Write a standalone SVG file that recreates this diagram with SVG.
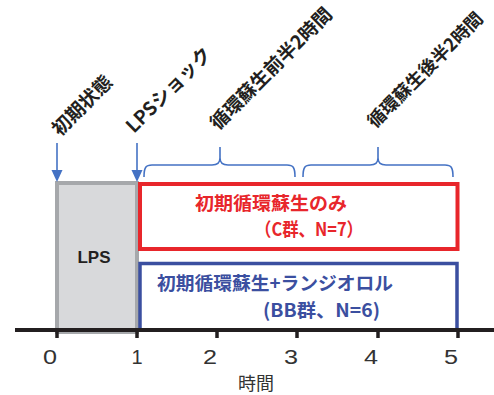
<svg xmlns="http://www.w3.org/2000/svg" width="494" height="395" viewBox="0 0 494 395">
<style>
.rot{font-family:"Noto Sans CJK JP","Liberation Sans",sans-serif;font-weight:bold;font-size:19px;fill:#231f20}
.tick{font-family:"Liberation Sans","DejaVu Sans",sans-serif;font-size:20px;fill:#333;text-anchor:middle}
.lbl{font-family:"Noto Sans CJK JP","Liberation Sans",sans-serif;font-weight:bold;font-size:18.5px}
.red{fill:#e8262b}
.blue{fill:#3b4fa0}
.conn{fill:none;stroke:#4472c4;stroke-width:1.6}
</style>
<rect width="494" height="395" fill="#fff"/>

<g id="lps-box">
<rect x="57" y="183" width="80" height="149" fill="#d8d9db" stroke="#a6a8ab" stroke-width="4"/>
<text x="94" y="263" font-family="Liberation Sans,Arial,sans-serif" font-weight="bold" font-size="17" fill="#231f20" text-anchor="middle">LPS</text>
</g>

<g id="c-group">
<rect x="140" y="184" width="317.5" height="65" fill="#fff" stroke="#e8262b" stroke-width="4"/>
<text class="lbl red" x="195" y="210" textLength="152" lengthAdjust="spacingAndGlyphs">初期循環蘇生のみ</text>
<text class="lbl red" x="255" y="236" textLength="108" lengthAdjust="spacingAndGlyphs">（C群、N=7）</text>
</g>

<g id="bb-group">
<path d="M140,331 L140,263.5 L457,263.5 L457,331" fill="#fff" stroke="#3b4fa0" stroke-width="3.5"/>
<text class="lbl blue" x="157" y="290" textLength="236" lengthAdjust="spacingAndGlyphs">初期循環蘇生+ランジオロル</text>
<text class="lbl blue" x="263" y="317" textLength="117" lengthAdjust="spacingAndGlyphs">(BB群、N=6)</text>
</g>

<g id="axis">
<line x1="15" y1="330" x2="494" y2="330" stroke="#231f20" stroke-width="4"/>
<g stroke="#231f20" stroke-width="3.5">
<line x1="57" y1="330" x2="57" y2="338"/>
<line x1="137" y1="330" x2="137" y2="338"/>
<line x1="217" y1="330" x2="217" y2="338"/>
<line x1="297" y1="330" x2="297" y2="338"/>
<line x1="378" y1="330" x2="378" y2="338"/>
<line x1="458" y1="330" x2="458" y2="338"/>
</g>
<text class="tick" x="50" y="364" textLength="14" lengthAdjust="spacingAndGlyphs" text-anchor="start">0</text>
<text class="tick" x="137" y="364">1</text>
<text class="tick" x="210" y="364" textLength="14" lengthAdjust="spacingAndGlyphs" text-anchor="start">2</text>
<text class="tick" x="291" y="364" textLength="14" lengthAdjust="spacingAndGlyphs" text-anchor="start">3</text>
<text class="tick" x="371" y="364" textLength="14" lengthAdjust="spacingAndGlyphs" text-anchor="start">4</text>
<text class="tick" x="451" y="364" textLength="14" lengthAdjust="spacingAndGlyphs" text-anchor="start">5</text>
<text x="256" y="390" font-family="Noto Sans CJK JP,sans-serif" font-size="18" fill="#333" text-anchor="middle">時間</text>
</g>

<g id="label-initial">
<text class="rot" transform="translate(60,137) rotate(-45)">初期状態</text>
</g>
<g id="label-lps">
<text class="rot" transform="translate(134,134) rotate(-45)">LPSショック</text>
</g>
<g id="label-first">
<text class="rot" transform="translate(218,131) rotate(-45)">循環蘇生前半2時間</text>
</g>
<g id="label-second">
<text class="rot" style="font-size:18px" transform="translate(375,129) rotate(-45)">循環蘇生後半2時間</text>
</g>

<g id="connectors">
<line class="conn" x1="57" y1="143" x2="57" y2="172"/>
<path d="M51.5,170 L62.5,170 L57,182 Z" fill="#4472c4"/>
<line class="conn" x1="137" y1="143" x2="137" y2="172"/>
<path d="M131.5,170 L142.5,170 L137,182 Z" fill="#4472c4"/>
<path class="conn" d="M144,177 C144,167 146,165 152,165 L212,165 C217,165 220,163 220,158 L220,147 M220,158 C220,163 223,165 228,165 L287,165 C293,165 295,167 295,177"/>
<path class="conn" d="M303,177 C303,167 305,165 311,165 L370,165 C375,165 378,163 378,158 L378,147 M378,158 C378,163 381,165 386,165 L445,165 C451,165 453,167 453,177"/>
</g>
</svg>
